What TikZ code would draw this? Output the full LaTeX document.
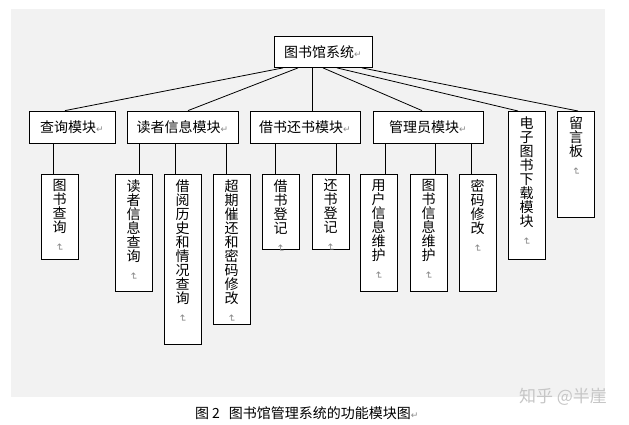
\documentclass[tikz,border=0pt]{standalone}
\usepackage{fontspec}
\newfontfamily\cjk{Noto Sans CJK SC}
\newfontfamily\sym{DejaVu Sans}
\definecolor{bg}{HTML}{F2F2F2}
\definecolor{markgray}{HTML}{8A8A8A}
\newcommand\pmark{{\sym\color{markgray}\fontsize{9}{9}\selectfont ↵}}
\newcommand\vmark{{\sym\color{markgray}\fontsize{10}{10}\selectfont\rotatebox{-90}{↵}}}
\newcommand\vcol[2]{\parbox[c][#1pt][t]{37pt}{\centering\vspace*{5pt}#2\\[-3pt]\vmark\par}}
\tikzset{
  box/.style={draw=black, line width=0.8pt, fill=white, inner sep=0pt,
    font=\cjk\fontsize{14}{14}\selectfont},
  hbox/.style={box, minimum height=32pt},
  vbox/.style={box, anchor=north},
  link/.style={draw=black, line width=0.8pt},
}
\begin{document}
\begin{tikzpicture}[x=1pt,y=-1pt]
\useasboundingbox (0,0) rectangle (629,424);
\fill[bg] (11,9) rectangle (605,397);

% root
\node[box, minimum width=98pt, minimum height=31pt] (root) at (323,52) {图书馆系统\pmark};

% level 2
\node[hbox, minimum width=86pt]  (q) at (72,127)    {查询模块\pmark};
\node[hbox, minimum width=111pt] (r) at (182.5,127) {读者信息模块\pmark};
\node[hbox, minimum width=110pt] (b) at (305,127)   {借书还书模块\pmark};
\node[hbox, minimum width=110pt] (m) at (428,127)   {管理员模块\pmark};
\node[vbox] (e) at (526.5,111) {\vcol{148}{电\\子\\图\\书\\下\\载\\模\\块}};
\node[vbox] (l) at (576,111)   {\vcol{106}{留\\言\\板}};

% level 3
\node[vbox] (q1) at (59.5,174)  {\vcol{85}{图\\书\\查\\询}};
\node[vbox] (r1) at (133.5,174) {\vcol{117}{读\\者\\信\\息\\查\\询}};
\node[vbox] (r2) at (182.5,174) {\vcol{170}{借\\阅\\历\\史\\和\\情\\况\\查\\询}};
\node[vbox] (r3) at (231.5,174) {\vcol{150}{超\\期\\催\\还\\和\\密\\码\\修\\改}};
\node[vbox] (b1) at (280.5,174) {\vcol{75}{借\\书\\登\\记}};
\node[vbox] (b2) at (330.5,174) {\vcol{75}{还\\书\\登\\记}};
\node[vbox] (m1) at (378.5,174) {\vcol{117}{用\\户\\信\\息\\维\\护}};
\node[vbox] (m2) at (428.5,174) {\vcol{117}{图\\书\\信\\息\\维\\护}};
\node[vbox] (m3) at (477.5,174) {\vcol{117}{密\\码\\修\\改}};

% root connectors
\draw[link] ([xshift=-40pt]root.south) -- ([xshift=-7pt]q.north);
\draw[link] ([xshift=-25pt]root.south) -- ([xshift=5.5pt]r.north);
\draw[link] ([xshift=-11pt]root.south) -- ([xshift=7pt]b.north);
\draw[link] ([xshift=0pt]root.south)   -- ([xshift=-6pt]m.north);
\draw[link] ([xshift=14pt]root.south)  -- ([xshift=-8.5pt]e.north);
\draw[link] ([xshift=39pt]root.south)  -- ([xshift=2pt]l.north);

% level 2 -> level 3
\draw[link] ([xshift=-6.5pt]q1.north) -- ([xshift=-6.5pt]q1.north |- q.south);
\draw[link] ([xshift=5.5pt]r1.north)  -- ([xshift=5.5pt]r1.north |- r.south);
\draw[link] ([xshift=-7.5pt]r2.north) -- ([xshift=-7.5pt]r2.north |- r.south);
\draw[link] ([xshift=-5.5pt]r3.north) -- ([xshift=-5.5pt]r3.north |- r.south);
\draw[link] ([xshift=-5.5pt]b1.north) -- ([xshift=-5.5pt]b1.north |- b.south);
\draw[link] ([xshift=5.5pt]b2.north)  -- ([xshift=5.5pt]b2.north |- b.south);
\draw[link] ([xshift=6.5pt]m1.north)  -- ([xshift=6.5pt]m1.north |- m.south);
\draw[link] ([xshift=6.5pt]m2.north)  -- ([xshift=6.5pt]m2.north |- m.south);
\draw[link] ([xshift=-6.5pt]m3.north) -- ([xshift=-6.5pt]m3.north |- m.south);

% caption and watermark
\node[anchor=west, inner sep=0pt, font=\cjk\fontsize{14}{14}\selectfont] (cap) at (195,413)
  {图\hspace{3pt}2\hspace{9pt}图书馆管理系统的功能模块图\pmark};
\node[inner sep=0pt, text=gray!45, font=\cjk\fontsize{17}{17}\selectfont] (wm) at (563,397) {知乎 @半崖};
\end{tikzpicture}
\end{document}
